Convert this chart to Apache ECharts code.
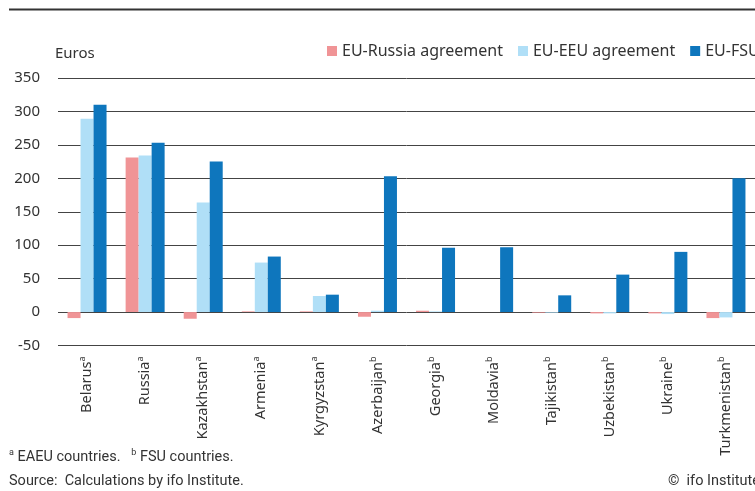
<!DOCTYPE html>
<html>
<head>
<meta charset="utf-8">
<script src="https://cdn.jsdelivr.net/npm/echarts@6/dist/echarts.min.js"></script>
<style>
  html, body { margin: 0; padding: 0; background: #fff; }
  #chart { width: 755px; height: 491px; }
</style>
</head>
<body>
<div id="chart"></div>
<script>
  // countries and their footnote mark (a = EAEU, b = FSU)
  var countries = ['Belarus', 'Russia', 'Kazakhstan', 'Armenia', 'Kyrgyzstan', 'Azerbaijan',
    'Georgia', 'Moldavia', 'Tajikistan', 'Uzbekistan', 'Ukraine', 'Turkmenistan'];
  var marks = ['a', 'a', 'a', 'a', 'a', 'b', 'b', 'b', 'b', 'b', 'b', 'b'];

  // values in euros
  var euRussia = [-9, 231, -10, 1, 1, -7, 2, 0, -1, -2, -2, -9];
  var euEeu = [289, 234, 164, 74, 24, 2, 1, 0, -1, -2, -3, -8];
  var euFsu = [310, 253, 225, 83, 26, 203, 96, 97, 25, 56, 90, 200];

  var yTicks = { min: -50, max: 350, step: 50 };

  var font = 'Noto Sans';
  var narrow = '"Liberation Sans Narrow", "Roboto", sans-serif';

  var chart = echarts.init(document.getElementById('chart'));

  var option = {
    animation: false,
    textStyle: { fontFamily: font },
    grid: {
      left: 58,
      top: 78,
      width: 707,
      height: 267.5
    },
    legend: {
      left: 327,
      top: 43,
      padding: 0,
      width: 700,
      itemWidth: 10,
      itemHeight: 10,
      itemGap: 15,
      icon: 'rect',
      textStyle: { fontSize: 16, color: '#333', fontFamily: font }
    },
    xAxis: {
      type: 'category',
      data: countries,
      axisLine: { show: false, onZero: false },
      axisTick: { show: false },
      axisLabel: {
        rotate: 90,
        margin: 11,
        interval: 0,
        formatter: function (v, i) {
          return '{n|' + v + '}{s|' + marks[i] + '}';
        },
        rich: {
          n: { fontSize: 14.5, color: '#333', fontFamily: font, lineHeight: 18 },
          s: { fontSize: 9, color: '#333', fontFamily: font, verticalAlign: 'top', lineHeight: 12 }
        }
      }
    },
    yAxis: {
      type: 'value',
      min: yTicks.min,
      max: yTicks.max,
      interval: yTicks.step,
      axisLine: { show: false },
      axisTick: { show: false },
      axisLabel: { fontSize: 15, color: '#333', margin: 18, fontFamily: font },
      splitLine: { lineStyle: { color: '#444', width: 1 } }
    },
    series: [
      {
        name: 'EU-Russia agreement',
        type: 'bar',
        data: euRussia,
        barWidth: 13,
        barGap: '0%',
        itemStyle: { color: '#f09496' }
      },
      {
        name: 'EU-EEU agreement',
        type: 'bar',
        data: euEeu,
        barWidth: 13,
        barGap: '0%',
        itemStyle: { color: '#b0dff7' }
      },
      {
        name: 'EU-FSU',
        type: 'bar',
        data: euFsu,
        barWidth: 13,
        barGap: '0%',
        itemStyle: { color: '#0e76bd' }
      }
    ],
    graphic: [
      {
        type: 'rect',
        shape: { x: 9, y: 8.5, width: 760, height: 2 },
        style: { fill: '#333' }
      },
      {
        type: 'text',
        left: 55,
        top: 46,
        style: { text: 'Euros', fontSize: 15, fill: '#333', fontFamily: font }
      },
      {
        type: 'text',
        left: 9,
        top: 448,
        style: {
          text: '{s|a} EAEU countries.   {s|b} FSU countries.',
          rich: {
            s: { fontSize: 9, fill: '#333', fontFamily: narrow, verticalAlign: 'top', lineHeight: 12 }
          },
          fontSize: 14.5,
          fill: '#333',
          fontFamily: narrow,
          lineHeight: 18
        }
      },
      {
        type: 'text',
        left: 9,
        top: 474,
        style: { text: 'Source:  Calculations by ifo Institute.', fontSize: 14.5, fill: '#333', fontFamily: narrow }
      },
      {
        type: 'text',
        left: 668,
        top: 474,
        style: { text: '\u00a9  ifo Institute', fontSize: 14.5, fill: '#333', fontFamily: narrow }
      }
    ]
  };

  chart.setOption(option);
</script>
</body>
</html>
